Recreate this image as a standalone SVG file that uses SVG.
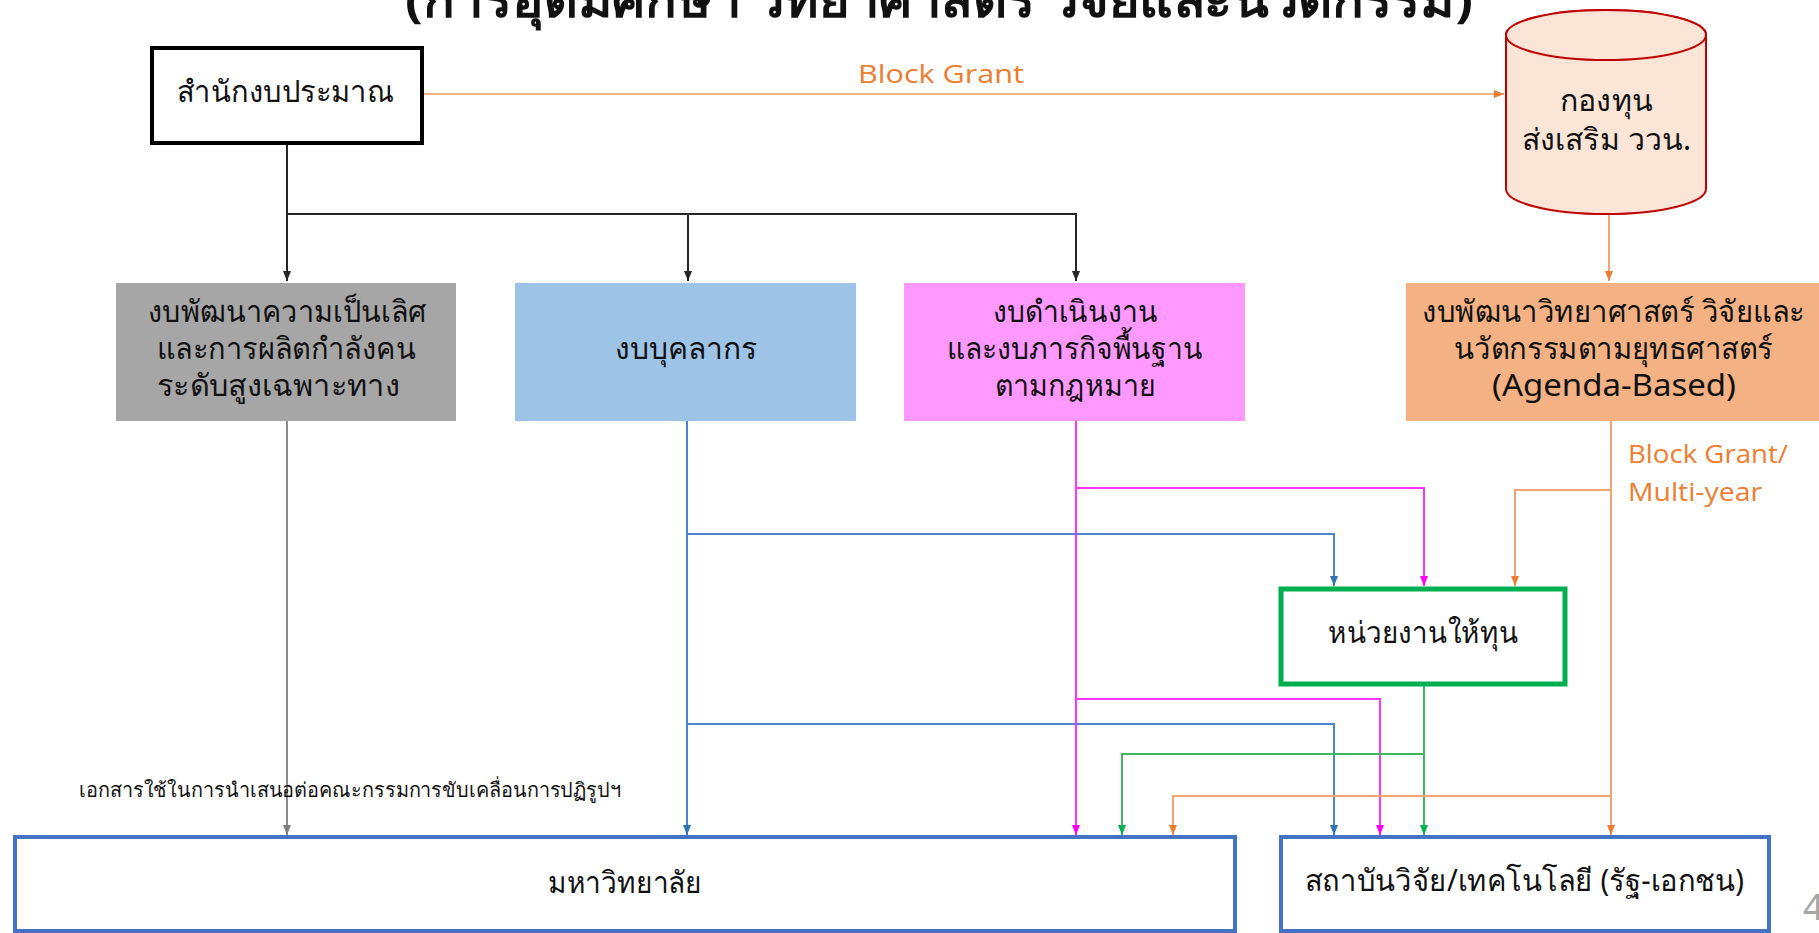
<svg xmlns="http://www.w3.org/2000/svg" width="1819" height="933" viewBox="0 0 1819 933">
<style>
text{font-family:"Noto Sans","DejaVu Sans",sans-serif;fill:#111;}
.th{font-size:30px;}
.lat{font-family:"Open Sans","Liberation Sans",sans-serif;}
.orl{fill:#ED7D31;font-size:26px;}
.c{fill:none;stroke-width:2;}
</style>
<defs>
<marker id="aK" markerWidth="10" markerHeight="10" refX="10" refY="4" orient="auto" markerUnits="userSpaceOnUse"><path d="M0,0 L10,4 L0,8 z" fill="#262626"/></marker>
<marker id="aG" markerWidth="10" markerHeight="10" refX="10" refY="4" orient="auto" markerUnits="userSpaceOnUse"><path d="M0,0 L10,4 L0,8 z" fill="#808080"/></marker>
<marker id="aB" markerWidth="10" markerHeight="10" refX="10" refY="4" orient="auto" markerUnits="userSpaceOnUse"><path d="M0,0 L10,4 L0,8 z" fill="#2E75B6"/></marker>
<marker id="aP" markerWidth="10" markerHeight="10" refX="10" refY="4" orient="auto" markerUnits="userSpaceOnUse"><path d="M0,0 L10,4 L0,8 z" fill="#FF00FF"/></marker>
<marker id="aN" markerWidth="10" markerHeight="10" refX="10" refY="4" orient="auto" markerUnits="userSpaceOnUse"><path d="M0,0 L10,4 L0,8 z" fill="#00B050"/></marker>
<marker id="aO" markerWidth="10" markerHeight="10" refX="10" refY="4" orient="auto" markerUnits="userSpaceOnUse"><path d="M0,0 L10,4 L0,8 z" fill="#ED7D31"/></marker>
</defs>
<rect width="1819" height="933" fill="#ffffff"/>
<g id="title">
<text x="405" y="17" font-size="48" font-weight="bold" textLength="1068" lengthAdjust="spacingAndGlyphs">(การอุดมศึกษา วิทยาศาสตร์ วิจัยและนวัตกรรม)</text>
</g>
<g id="connectors">
<path class="c" d="M423,94 H1504" stroke="#F4B183" stroke-width="2.5" marker-end="url(#aO)"/>
<path class="c" d="M287,145 V281" stroke="#262626" marker-end="url(#aK)"/>
<path class="c" d="M287,214 H1076 V281" stroke="#262626" marker-end="url(#aK)"/>
<path class="c" d="M688,214 V281" stroke="#262626" marker-end="url(#aK)"/>
<path class="c" d="M1609,215 V281" stroke="#F4A470" marker-end="url(#aO)"/>
<path class="c" d="M287,421 V835" stroke="#8C8C8C" stroke-width="1.5" marker-end="url(#aG)"/>
<path class="c" d="M687,421 V835" stroke="#4A86D0" marker-end="url(#aB)"/>
<path class="c" d="M687,534 H1334 V586" stroke="#4A86D0" marker-end="url(#aB)"/>
<path class="c" d="M687,724 H1334 V835" stroke="#4A86D0" marker-end="url(#aB)"/>
<path class="c" d="M1076,421 V835" stroke="#FF33FF" marker-end="url(#aP)"/>
<path class="c" d="M1076,488 H1424 V586" stroke="#FF33FF" marker-end="url(#aP)"/>
<path class="c" d="M1076,699 H1380 V835" stroke="#FF33FF" marker-end="url(#aP)"/>
<path class="c" d="M1424,686 V835" stroke="#3CB862" marker-end="url(#aN)"/>
<path class="c" d="M1424,754 H1122 V835" stroke="#3CB862" marker-end="url(#aN)"/>
<path class="c" d="M1611,421 V835" stroke="#F4A470" marker-end="url(#aO)"/>
<path class="c" d="M1611,490 H1515 V586" stroke="#F4A470" marker-end="url(#aO)"/>
<path class="c" d="M1611,796 H1173 V835" stroke="#F4A470" marker-end="url(#aO)"/>
</g>
<g id="labels">
<text class="lat orl" x="858" y="83" textLength="166" lengthAdjust="spacingAndGlyphs">Block Grant</text>
<text class="lat orl" x="1628" y="463" textLength="160" lengthAdjust="spacingAndGlyphs">Block Grant/</text>
<text class="lat orl" x="1628" y="501" textLength="134" lengthAdjust="spacingAndGlyphs">Multi-year</text>
<text x="79" y="797" font-size="20" textLength="542" lengthAdjust="spacingAndGlyphs">เอกสารใช้ในการนำเสนอต่อคณะกรรมการขับเคลื่อนการปฏิรูปฯ</text>
<text x="1803" y="920" font-size="36" style="fill:#A6A6A6">4</text>
</g>
<g id="n-budget">
<rect x="152" y="48" width="270" height="95" fill="#fff" stroke="#000" stroke-width="4"/>
<text class="th" x="177" y="102" textLength="217" lengthAdjust="spacingAndGlyphs">สำนักงบประมาณ</text>
</g>
<g id="n-fund">
<path d="M1506,35 V189 A100,25 0 0 0 1706,189 V35 A100,25 0 0 0 1506,35 Z" fill="#FBE5D6" stroke="#C00000" stroke-width="2"/>
<ellipse cx="1606" cy="35" rx="100" ry="25" fill="#FBE5D6" stroke="#C00000" stroke-width="2"/>
<text class="th" x="1560" y="111" textLength="93" lengthAdjust="spacingAndGlyphs">กองทุน</text>
<text class="th" x="1522" y="150" textLength="169" lengthAdjust="spacingAndGlyphs">ส่งเสริม ววน.</text>
</g>
<g id="n-excellence">
<rect x="116" y="283" width="340" height="138" fill="#A6A6A6"/>
<text class="th" x="148" y="322" textLength="278" lengthAdjust="spacingAndGlyphs">งบพัฒนาความเป็นเลิศ</text>
<text class="th" x="157" y="359" textLength="259" lengthAdjust="spacingAndGlyphs">และการผลิตกำลังคน</text>
<text class="th" x="157" y="396" textLength="243" lengthAdjust="spacingAndGlyphs">ระดับสูงเฉพาะทาง</text>
</g>
<g id="n-personnel">
<rect x="515" y="283" width="341" height="138" fill="#9DC3E6"/>
<text class="th" x="615" y="359" textLength="142" lengthAdjust="spacingAndGlyphs">งบบุคลากร</text>
</g>
<g id="n-operation">
<rect x="904" y="283" width="341" height="138" fill="#FF99FF"/>
<text class="th" x="993" y="322" textLength="165" lengthAdjust="spacingAndGlyphs">งบดำเนินงาน</text>
<text class="th" x="947" y="359" textLength="256" lengthAdjust="spacingAndGlyphs">และงบภารกิจพื้นฐาน</text>
<text class="th" x="995" y="396" textLength="161" lengthAdjust="spacingAndGlyphs">ตามกฎหมาย</text>
</g>
<g id="n-agenda">
<rect x="1406" y="283" width="420" height="138" fill="#F4B183"/>
<text class="th" x="1422" y="322" textLength="383" lengthAdjust="spacingAndGlyphs">งบพัฒนาวิทยาศาสตร์ วิจัยและ</text>
<text class="th" x="1454" y="359" textLength="319" lengthAdjust="spacingAndGlyphs">นวัตกรรมตามยุทธศาสตร์</text>
<text class="th" x="1492" y="396" textLength="244" lengthAdjust="spacingAndGlyphs">(Agenda-Based)</text>
</g>
<g id="n-funder">
<rect x="1281" y="589" width="284" height="95" fill="#fff" stroke="#00B050" stroke-width="5"/>
<text class="th" x="1328" y="643" textLength="190" lengthAdjust="spacingAndGlyphs">หน่วยงานให้ทุน</text>
</g>
<g id="n-university">
<rect x="15" y="837" width="1220" height="94" fill="#fff" stroke="#4472C4" stroke-width="4"/>
<text class="th" x="548" y="893" textLength="154" lengthAdjust="spacingAndGlyphs">มหาวิทยาลัย</text>
</g>
<g id="n-institute">
<rect x="1281" y="837" width="488" height="94" fill="#fff" stroke="#4472C4" stroke-width="4"/>
<text class="th" x="1305" y="891" textLength="439" lengthAdjust="spacingAndGlyphs">สถาบันวิจัย/เทคโนโลยี (รัฐ-เอกชน)</text>
</g>
</svg>
